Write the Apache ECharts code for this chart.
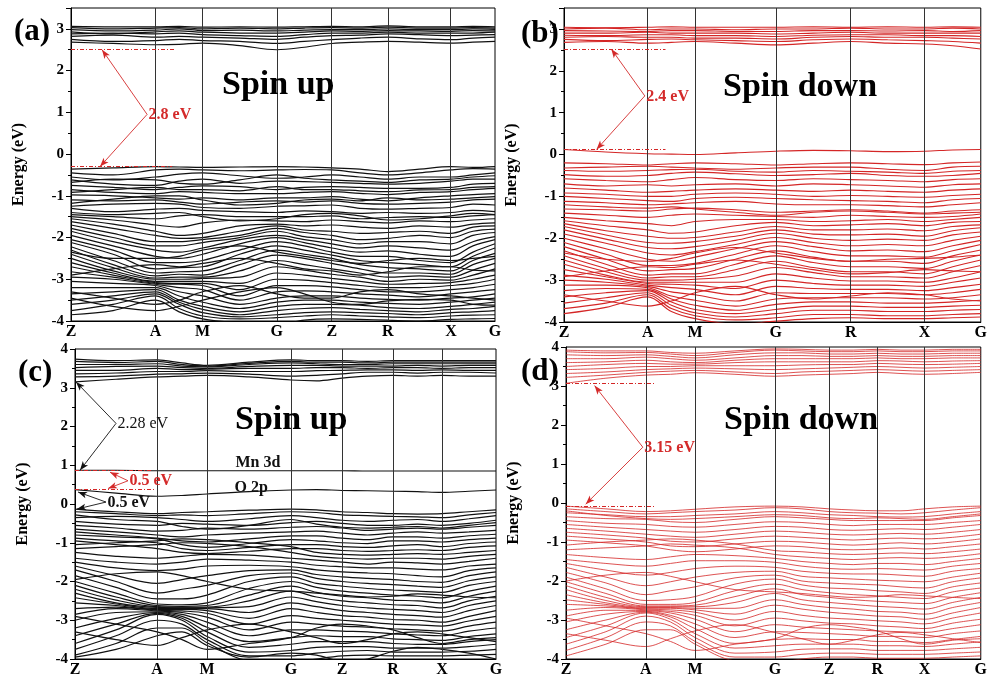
<!DOCTYPE html>
<html>
<head>
<meta charset="utf-8">
<script src="https://cdn.jsdelivr.net/npm/echarts@6/dist/echarts.min.js"></script>
<style>
  html, body { margin: 0; padding: 0; background: #fff; }
  #chart { width: 990px; height: 678px; }
</style>
</head>
<body>
<div id="chart"></div>
<script>
// ---------- k-paths (high-symmetry labels, path positions, sampled k) ----------
const pathLabelsA = ['Z', 'A', 'M', 'G', 'Z', 'R', 'X', 'G'];
const pathPosA = [0, 0.845, 1.315, 2.055, 2.605, 3.165, 3.795, 4.235];
const sampleKA = [0, 0.42, 0.845, 1.08, 1.315, 1.685, 2.055, 2.33, 2.605, 2.885, 3.165, 3.48, 3.795, 4.015, 4.235];

const pathLabelsB = ['Z', 'A', 'M', 'G', 'R', 'X', 'G'];
const pathPosB = [0, 0.85, 1.33, 2.15, 2.91, 3.66, 4.23];
const sampleKB = [0, 0.425, 0.85, 1.09, 1.33, 1.74, 2.15, 2.53, 2.91, 3.285, 3.66, 3.945, 4.23];

const pathLabelsC = ['Z', 'A', 'M', 'G', 'Z', 'R', 'X', 'G'];
const pathPosC = [0, 0.82, 1.32, 2.16, 2.67, 3.18, 3.67, 4.21];
const sampleKC = [0, 0.41, 0.82, 1.07, 1.32, 1.74, 2.16, 2.415, 2.67, 2.925, 3.18, 3.425, 3.67, 3.94, 4.21];

const pathLabelsD = ['Z', 'A', 'M', 'G', 'Z', 'R', 'X', 'G'];
const pathPosD = [0, 0.81, 1.31, 2.12, 2.67, 3.16, 3.64, 4.21];
const sampleKD = [0, 0.405, 0.81, 1.06, 1.31, 1.715, 2.12, 2.395, 2.67, 2.915, 3.16, 3.4, 3.64, 3.925, 4.21];

// ---------- band edges (eV) ----------
const edgesA = { vbm: -0.3, cbm: 2.5 };
const edgesB = { vbm: 0.12, cbm: 2.52 };
const edgesC = { vbm: -0.13, o2p: 0.37, mn3d: 0.87, cbm: 3.15 };
const edgesD = { vbm: -0.08, cbm: 3.07 };

// ---------- (a) spin up ----------
const conductionA = [
  [2.68,2.65,2.62,2.63,2.66,2.6,2.5,2.56,2.65,2.68,2.7,2.68,2.66,2.68,2.7],
  [2.75,2.7,2.72,2.75,2.72,2.7,2.65,2.7,2.74,2.78,2.8,2.76,2.74,2.78,2.8],
  [2.82,2.85,2.8,2.82,2.8,2.78,2.75,2.8,2.84,2.85,2.88,2.86,2.84,2.85,2.86],
  [2.88,2.9,2.88,2.9,2.86,2.84,2.82,2.86,2.9,2.9,2.92,2.9,2.9,2.9,2.92],
  [2.93,2.88,2.93,2.95,2.92,2.9,2.9,2.92,2.95,2.94,2.96,2.95,2.94,2.96,2.95],
  [2.98,2.95,2.97,3.0,2.96,2.97,2.95,2.97,2.98,2.98,3.0,2.98,2.98,3.0,2.99],
  [3.03,3.0,3.02,3.03,3.0,3.02,3.0,3.02,3.03,3.02,3.04,3.02,3.02,3.03,3.02],
  [3.06,3.05,3.05,3.06,3.04,3.05,3.04,3.05,3.06,3.05,3.07,3.05,3.05,3.06,3.05]
];
const valenceA = [
  [-0.36,-0.33,-0.3,-0.31,-0.32,-0.31,-0.3,-0.31,-0.33,-0.36,-0.42,-0.36,-0.3,-0.32,-0.3],
  [-0.45,-0.5,-0.38,-0.36,-0.38,-0.4,-0.38,-0.37,-0.38,-0.45,-0.5,-0.45,-0.38,-0.35,-0.36],
  [-0.55,-0.62,-0.55,-0.48,-0.45,-0.52,-0.58,-0.55,-0.5,-0.55,-0.6,-0.55,-0.55,-0.5,-0.45],
  [-0.62,-0.72,-0.75,-0.65,-0.6,-0.7,-0.65,-0.66,-0.68,-0.7,-0.72,-0.7,-0.65,-0.6,-0.6],
  [-0.75,-0.8,-0.85,-0.8,-0.76,-0.78,-0.85,-0.8,-0.78,-0.8,-0.82,-0.82,-0.8,-0.72,-0.7],
  [-0.85,-0.92,-0.95,-0.9,-0.92,-0.95,-0.95,-0.92,-0.9,-0.94,-0.97,-0.92,-0.9,-0.85,-0.82],
  [-0.98,-1.0,-1.05,-1.08,-1.05,-1.1,-1.05,-1.05,-1.02,-1.08,-1.12,-1.05,-1.0,-0.97,-0.95],
  [-1.1,-1.12,-1.1,-1.15,-1.2,-1.15,-1.12,-1.15,-1.12,-1.18,-1.2,-1.18,-1.15,-1.1,-1.08],
  [-1.25,-1.2,-1.18,-1.2,-1.28,-1.3,-1.25,-1.24,-1.22,-1.3,-1.32,-1.3,-1.28,-1.2,-1.22],
  [-1.3,-1.38,-1.32,-1.3,-1.35,-1.38,-1.4,-1.36,-1.38,-1.42,-1.4,-1.42,-1.4,-1.35,-1.38],
  [-1.45,-1.5,-1.55,-1.48,-1.45,-1.5,-1.5,-1.5,-1.48,-1.55,-1.52,-1.5,-1.52,-1.48,-1.45],
  [-1.5,-1.58,-1.7,-1.75,-1.65,-1.58,-1.6,-1.62,-1.58,-1.62,-1.65,-1.6,-1.62,-1.58,-1.55],
  [-1.55,-1.68,-1.85,-1.95,-1.9,-1.72,-1.68,-1.72,-1.7,-1.75,-1.78,-1.72,-1.75,-1.68,-1.65],
  [-1.62,-1.78,-1.95,-2.02,-2.0,-1.85,-1.72,-1.82,-1.85,-1.9,-1.88,-1.85,-1.9,-1.75,-1.72],
  [-1.7,-1.9,-2.1,-2.1,-2.05,-1.95,-1.78,-1.88,-1.95,-2.05,-2.02,-1.95,-2.0,-1.85,-1.8],
  [-1.78,-2.0,-2.2,-2.2,-2.12,-2.0,-1.85,-1.98,-2.05,-2.15,-2.1,-2.1,-2.15,-1.95,-1.88],
  [-1.85,-2.1,-2.3,-2.35,-2.25,-2.05,-1.95,-2.05,-2.15,-2.25,-2.2,-2.25,-2.3,-2.1,-1.98],
  [-1.95,-2.2,-2.45,-2.5,-2.4,-2.15,-2.0,-2.12,-2.25,-2.35,-2.32,-2.4,-2.45,-2.2,-2.05],
  [-2.05,-2.3,-2.6,-2.6,-2.55,-2.3,-2.1,-2.2,-2.35,-2.45,-2.45,-2.55,-2.6,-2.35,-2.15],
  [-2.12,-2.4,-2.75,-2.72,-2.7,-2.4,-2.2,-2.3,-2.42,-2.55,-2.6,-2.65,-2.7,-2.45,-2.25],
  [-2.22,-2.55,-2.85,-2.82,-2.8,-2.55,-2.3,-2.4,-2.5,-2.65,-2.72,-2.75,-2.8,-2.55,-2.38],
  [-2.3,-2.65,-2.92,-2.88,-2.9,-2.65,-2.42,-2.5,-2.62,-2.75,-2.85,-2.85,-2.88,-2.65,-2.5],
  [-2.4,-2.72,-2.97,-2.95,-2.95,-2.8,-2.55,-2.65,-2.75,-2.85,-2.95,-2.92,-2.95,-2.78,-2.62],
  [-2.5,-2.8,-3.0,-3.0,-2.98,-2.95,-2.7,-2.78,-2.88,-2.95,-3.05,-3.0,-3.02,-2.9,-2.75],
  [-2.6,-2.85,-3.05,-3.05,-3.05,-3.1,-2.85,-2.9,-2.98,-3.05,-3.12,-3.1,-3.08,-3.0,-2.9],
  [-2.7,-2.9,-3.08,-3.1,-3.1,-3.25,-3.0,-3.02,-3.08,-3.15,-3.2,-3.2,-3.15,-3.1,-3.0],
  [-2.82,-2.95,-3.1,-3.12,-3.15,-3.4,-3.15,-3.15,-3.18,-3.25,-3.3,-3.3,-3.25,-3.2,-3.12],
  [-2.95,-3.0,-3.12,-3.2,-3.25,-3.5,-3.3,-3.28,-3.3,-3.35,-3.38,-3.42,-3.35,-3.3,-3.25],
  [-3.05,-3.1,-3.15,-3.3,-3.4,-3.6,-3.45,-3.4,-3.4,-3.45,-3.48,-3.5,-3.45,-3.42,-3.35],
  [-3.2,-3.2,-3.2,-3.4,-3.55,-3.7,-3.55,-3.5,-3.5,-3.55,-3.58,-3.6,-3.55,-3.5,-3.45],
  [-3.35,-3.3,-3.25,-3.5,-3.65,-3.78,-3.65,-3.6,-3.6,-3.62,-3.68,-3.7,-3.65,-3.6,-3.55],
  [-3.5,-3.4,-3.3,-3.55,-3.72,-3.85,-3.75,-3.7,-3.68,-3.72,-3.75,-3.78,-3.72,-3.7,-3.65],
  [-3.6,-3.5,-3.35,-3.6,-3.8,-3.9,-3.85,-3.8,-3.78,-3.8,-3.82,-3.85,-3.8,-3.78,-3.75],
  [-3.75,-3.6,-3.4,-3.7,-3.88,-3.95,-3.92,-3.88,-3.85,-3.88,-3.9,-3.92,-3.88,-3.86,-3.85],
  [-3.85,-3.75,-3.5,-3.78,-3.95,-4.05,-4.1,-3.98,-3.95,-3.96,-3.98,-4.0,-3.96,-3.95,-3.94],
  [-0.68,-0.6,-0.62,-0.7,-0.72,-0.62,-0.5,-0.58,-0.62,-0.65,-0.68,-0.62,-0.6,-0.55,-0.52],
  [-0.92,-0.85,-0.8,-0.85,-0.85,-0.88,-0.78,-0.85,-0.85,-0.88,-0.9,-0.86,-0.85,-0.8,-0.78],
  [-1.18,-1.08,-1.0,-1.0,-1.1,-1.22,-1.18,-1.1,-1.08,-1.12,-1.05,-1.1,-1.08,-1.05,-1.02],
  [-1.4,-1.45,-1.42,-1.4,-1.5,-1.6,-1.55,-1.45,-1.42,-1.48,-1.58,-1.55,-1.48,-1.42,-1.45],
  [-2.35,-2.5,-2.5,-2.45,-2.3,-2.2,-2.35,-2.45,-2.55,-2.62,-2.55,-2.5,-2.55,-2.5,-2.45],
  [-2.9,-2.75,-2.65,-2.7,-2.62,-2.5,-2.62,-2.75,-2.8,-2.9,-2.82,-2.7,-2.7,-2.78,-2.8],
  [-3.3,-3.45,-3.6,-3.5,-3.3,-3.15,-3.35,-3.45,-3.45,-3.3,-3.25,-3.35,-3.4,-3.45,-3.5],
  [-3.45,-3.65,-3.75,-3.65,-3.5,-3.3,-3.2,-3.35,-3.55,-3.6,-3.52,-3.48,-3.5,-3.6,-3.62]
];

// ---------- (b) spin down ----------
const conductionB = [
  [2.68,2.7,2.66,2.68,2.7,2.66,2.62,2.66,2.7,2.66,2.64,2.6,2.52],
  [2.75,2.72,2.75,2.76,2.74,2.72,2.7,2.74,2.76,2.74,2.72,2.7,2.66],
  [2.8,2.82,2.8,2.8,2.78,2.78,2.76,2.8,2.82,2.8,2.8,2.78,2.76],
  [2.85,2.84,2.86,2.86,2.84,2.84,2.82,2.85,2.86,2.86,2.84,2.84,2.82],
  [2.9,2.9,2.92,2.9,2.9,2.9,2.88,2.9,2.92,2.9,2.9,2.9,2.9],
  [2.96,2.95,2.94,2.96,2.96,2.94,2.94,2.96,2.96,2.95,2.96,2.94,2.96],
  [3.0,3.02,2.98,3.0,3.0,2.98,3.0,3.0,3.02,3.0,3.0,3.02,3.0],
  [3.04,3.03,3.04,3.05,3.04,3.04,3.04,3.05,3.04,3.05,3.04,3.05,3.04]
];
const valenceB = [
  [0.12,0.06,0.02,0.01,0.0,0.04,0.08,0.1,0.09,0.07,0.08,0.11,0.12],
  [-0.2,-0.22,-0.25,-0.22,-0.2,-0.22,-0.25,-0.22,-0.2,-0.22,-0.24,-0.2,-0.18],
  [-0.32,-0.3,-0.28,-0.3,-0.32,-0.35,-0.32,-0.3,-0.3,-0.35,-0.38,-0.3,-0.28],
  [-0.38,-0.4,-0.38,-0.36,-0.35,-0.4,-0.42,-0.38,-0.4,-0.42,-0.45,-0.4,-0.38],
  [-0.48,-0.52,-0.5,-0.45,-0.42,-0.46,-0.5,-0.48,-0.45,-0.5,-0.52,-0.5,-0.45],
  [-0.58,-0.62,-0.65,-0.6,-0.55,-0.6,-0.62,-0.58,-0.6,-0.62,-0.65,-0.6,-0.58],
  [-0.7,-0.75,-0.72,-0.75,-0.72,-0.7,-0.75,-0.7,-0.72,-0.75,-0.78,-0.72,-0.7],
  [-0.8,-0.85,-0.9,-0.88,-0.85,-0.82,-0.85,-0.88,-0.85,-0.88,-0.9,-0.85,-0.82],
  [-0.92,-0.95,-1.0,-1.0,-0.95,-0.92,-0.95,-1.0,-0.98,-1.0,-1.02,-0.98,-0.95],
  [-1.0,-1.05,-1.1,-1.12,-1.05,-1.02,-1.05,-1.08,-1.1,-1.12,-1.15,-1.08,-1.05],
  [-1.12,-1.15,-1.2,-1.18,-1.15,-1.12,-1.18,-1.2,-1.2,-1.22,-1.25,-1.2,-1.15],
  [-1.2,-1.25,-1.28,-1.25,-1.3,-1.38,-1.45,-1.38,-1.35,-1.38,-1.42,-1.4,-1.38],
  [-1.3,-1.32,-1.35,-1.3,-1.28,-1.32,-1.38,-1.35,-1.32,-1.35,-1.4,-1.35,-1.32],
  [-1.4,-1.45,-1.5,-1.45,-1.42,-1.45,-1.48,-1.5,-1.45,-1.48,-1.5,-1.48,-1.42],
  [-1.5,-1.58,-1.65,-1.7,-1.6,-1.55,-1.55,-1.6,-1.58,-1.55,-1.6,-1.55,-1.5],
  [-1.58,-1.7,-1.8,-1.88,-1.85,-1.7,-1.62,-1.7,-1.68,-1.65,-1.7,-1.62,-1.6],
  [-1.65,-1.82,-1.95,-2.0,-1.98,-1.85,-1.72,-1.8,-1.8,-1.78,-1.82,-1.72,-1.68],
  [-1.72,-1.92,-2.1,-2.12,-2.08,-1.95,-1.8,-1.9,-1.92,-1.9,-1.95,-1.82,-1.75],
  [-1.8,-2.02,-2.22,-2.25,-2.2,-2.05,-1.88,-2.0,-2.05,-2.02,-2.05,-1.92,-1.85],
  [-1.9,-2.12,-2.35,-2.4,-2.32,-2.15,-1.98,-2.1,-2.18,-2.15,-2.18,-2.05,-1.95],
  [-2.0,-2.25,-2.5,-2.55,-2.45,-2.25,-2.08,-2.2,-2.3,-2.28,-2.32,-2.18,-2.05],
  [-2.1,-2.38,-2.65,-2.65,-2.6,-2.38,-2.18,-2.32,-2.42,-2.42,-2.45,-2.3,-2.15],
  [-2.2,-2.5,-2.78,-2.75,-2.72,-2.5,-2.3,-2.45,-2.55,-2.55,-2.6,-2.42,-2.28],
  [-2.3,-2.62,-2.88,-2.85,-2.85,-2.62,-2.42,-2.58,-2.68,-2.68,-2.72,-2.55,-2.4],
  [-2.42,-2.72,-2.95,-2.92,-2.92,-2.75,-2.55,-2.7,-2.8,-2.8,-2.85,-2.68,-2.52],
  [-2.52,-2.8,-3.0,-3.0,-2.98,-2.9,-2.7,-2.82,-2.92,-2.92,-2.95,-2.8,-2.65],
  [-2.62,-2.88,-3.05,-3.05,-3.05,-3.05,-2.85,-2.95,-3.02,-3.02,-3.05,-2.95,-2.8],
  [-2.75,-2.92,-3.08,-3.1,-3.12,-3.2,-3.0,-3.08,-3.12,-3.12,-3.15,-3.05,-2.95],
  [-2.88,-2.98,-3.12,-3.18,-3.22,-3.35,-3.15,-3.2,-3.22,-3.22,-3.25,-3.18,-3.1],
  [-3.0,-3.05,-3.15,-3.28,-3.35,-3.5,-3.3,-3.32,-3.32,-3.32,-3.35,-3.3,-3.22],
  [-3.12,-3.12,-3.18,-3.38,-3.48,-3.62,-3.45,-3.42,-3.42,-3.42,-3.45,-3.42,-3.35],
  [-3.25,-3.2,-3.22,-3.45,-3.6,-3.72,-3.58,-3.52,-3.52,-3.55,-3.55,-3.52,-3.48],
  [-3.4,-3.3,-3.25,-3.52,-3.7,-3.8,-3.7,-3.62,-3.62,-3.65,-3.65,-3.62,-3.6],
  [-3.55,-3.42,-3.3,-3.6,-3.78,-3.88,-3.8,-3.72,-3.72,-3.75,-3.75,-3.72,-3.7],
  [-3.68,-3.55,-3.35,-3.68,-3.85,-3.95,-3.9,-3.82,-3.82,-3.85,-3.85,-3.82,-3.8],
  [-3.8,-3.65,-3.4,-3.75,-3.92,-4.05,-3.98,-3.92,-3.9,-3.92,-3.92,-3.9,-3.88],
  [-2.35,-2.5,-2.55,-2.48,-2.35,-2.22,-2.35,-2.48,-2.55,-2.5,-2.48,-2.45,-2.4],
  [-2.92,-2.78,-2.68,-2.7,-2.62,-2.52,-2.62,-2.75,-2.85,-2.82,-2.75,-2.78,-2.8],
  [-3.35,-3.5,-3.62,-3.5,-3.3,-3.15,-3.35,-3.45,-3.38,-3.3,-3.35,-3.45,-3.5]
];

// ---------- (c) spin up ----------
const conductionC = [
  [3.15,3.22,3.28,3.3,3.32,3.28,3.2,3.18,3.25,3.3,3.32,3.3,3.32,3.3,3.3],
  [3.28,3.3,3.35,3.36,3.38,3.35,3.3,3.32,3.36,3.4,3.4,3.38,3.4,3.4,3.38],
  [3.36,3.38,3.42,3.42,3.44,3.42,3.42,3.44,3.45,3.46,3.46,3.45,3.46,3.45,3.45],
  [3.45,3.45,3.5,3.47,3.48,3.5,3.5,3.52,3.52,3.5,3.52,3.52,3.5,3.52,3.52],
  [3.52,3.55,3.56,3.52,3.5,3.55,3.58,3.58,3.56,3.56,3.56,3.58,3.56,3.58,3.58],
  [3.6,3.6,3.62,3.56,3.54,3.6,3.64,3.62,3.6,3.6,3.62,3.62,3.62,3.62,3.62],
  [3.68,3.65,3.68,3.6,3.56,3.63,3.68,3.66,3.66,3.64,3.66,3.66,3.66,3.66,3.66],
  [3.74,3.7,3.72,3.64,3.58,3.66,3.72,3.7,3.7,3.68,3.7,3.7,3.7,3.7,3.7]
];
const mn3dC = [0.87,0.87,0.86,0.86,0.86,0.86,0.86,0.86,0.86,0.85,0.85,0.85,0.85,0.85,0.85];
const o2pC = [0.37,0.28,0.2,0.22,0.26,0.32,0.36,0.37,0.35,0.34,0.33,0.32,0.3,0.33,0.36];
const valenceC = [
  [-0.13,-0.2,-0.25,-0.22,-0.2,-0.16,-0.13,-0.15,-0.2,-0.22,-0.25,-0.26,-0.25,-0.2,-0.15],
  [-0.2,-0.25,-0.3,-0.28,-0.3,-0.25,-0.2,-0.22,-0.28,-0.3,-0.32,-0.33,-0.35,-0.28,-0.22],
  [-0.28,-0.4,-0.45,-0.58,-0.65,-0.55,-0.4,-0.52,-0.6,-0.62,-0.6,-0.58,-0.62,-0.55,-0.48],
  [-0.35,-0.32,-0.35,-0.4,-0.45,-0.38,-0.3,-0.35,-0.42,-0.45,-0.42,-0.4,-0.45,-0.38,-0.3],
  [-0.45,-0.52,-0.55,-0.5,-0.52,-0.55,-0.48,-0.45,-0.5,-0.55,-0.55,-0.52,-0.55,-0.5,-0.42],
  [-0.55,-0.62,-0.7,-0.68,-0.62,-0.65,-0.6,-0.58,-0.62,-0.68,-0.65,-0.62,-0.65,-0.6,-0.55],
  [-0.65,-0.72,-0.8,-0.85,-0.8,-0.75,-0.72,-0.7,-0.75,-0.8,-0.75,-0.72,-0.75,-0.72,-0.68],
  [-0.72,-0.8,-0.88,-0.95,-0.98,-0.9,-0.82,-0.82,-0.88,-0.92,-0.85,-0.85,-0.88,-0.82,-0.78],
  [-0.8,-0.85,-0.9,-1.05,-1.12,-1.02,-0.92,-0.95,-1.0,-1.02,-0.95,-0.95,-0.98,-0.92,-0.88],
  [-0.88,-0.95,-1.0,-1.15,-1.2,-1.12,-1.05,-1.05,-1.1,-1.12,-1.08,-1.05,-1.1,-1.02,-0.98],
  [-0.95,-1.05,-1.15,-1.25,-1.28,-1.22,-1.15,-1.15,-1.2,-1.22,-1.2,-1.18,-1.2,-1.12,-1.08],
  [-1.05,-1.0,-0.95,-0.9,-0.92,-1.0,-1.1,-1.25,-1.3,-1.32,-1.3,-1.28,-1.3,-1.25,-1.2],
  [-1.15,-1.1,-1.05,-1.0,-1.02,-1.1,-1.25,-1.35,-1.4,-1.42,-1.4,-1.4,-1.42,-1.35,-1.3],
  [-1.25,-1.35,-1.4,-1.35,-1.3,-1.32,-1.4,-1.45,-1.5,-1.55,-1.5,-1.52,-1.55,-1.48,-1.4],
  [-1.4,-1.5,-1.55,-1.5,-1.42,-1.45,-1.5,-1.58,-1.62,-1.65,-1.65,-1.68,-1.7,-1.6,-1.55],
  [-1.5,-1.65,-1.72,-1.68,-1.6,-1.58,-1.62,-1.7,-1.75,-1.78,-1.8,-1.85,-1.88,-1.72,-1.65],
  [-1.6,-1.85,-2.05,-1.95,-1.85,-1.72,-1.7,-1.82,-1.88,-1.92,-1.95,-2.0,-2.02,-1.85,-1.75],
  [-1.7,-2.0,-2.3,-2.2,-2.1,-1.85,-1.78,-1.92,-2.0,-2.05,-2.08,-2.12,-2.15,-1.98,-1.88],
  [-1.85,-2.15,-2.45,-2.45,-2.35,-2.0,-1.88,-2.05,-2.12,-2.18,-2.22,-2.25,-2.28,-2.1,-2.0],
  [-1.95,-1.8,-1.75,-1.85,-2.0,-2.2,-2.25,-2.3,-2.35,-2.4,-2.38,-2.32,-2.35,-2.4,-2.42],
  [-2.0,-2.3,-2.58,-2.6,-2.55,-2.18,-2.0,-2.15,-2.25,-2.3,-2.35,-2.38,-2.42,-2.25,-2.12],
  [-2.1,-2.4,-2.62,-2.64,-2.62,-2.35,-2.12,-2.28,-2.38,-2.42,-2.48,-2.5,-2.55,-2.38,-2.25],
  [-2.2,-2.48,-2.65,-2.66,-2.66,-2.5,-2.25,-2.4,-2.5,-2.55,-2.6,-2.62,-2.68,-2.5,-2.38],
  [-2.3,-2.55,-2.67,-2.68,-2.68,-2.65,-2.4,-2.52,-2.62,-2.68,-2.72,-2.75,-2.8,-2.62,-2.5],
  [-2.42,-2.58,-2.7,-2.7,-2.7,-2.8,-2.55,-2.65,-2.75,-2.8,-2.85,-2.88,-2.92,-2.75,-2.62],
  [-2.55,-2.62,-2.72,-2.72,-2.75,-2.95,-2.7,-2.8,-2.88,-2.92,-2.98,-3.0,-3.05,-2.9,-2.75],
  [-2.7,-2.66,-2.74,-2.76,-2.82,-3.1,-2.88,-2.95,-3.0,-3.05,-3.1,-3.12,-3.15,-3.02,-2.9],
  [-2.85,-2.7,-2.76,-2.8,-2.92,-3.25,-3.05,-3.1,-3.15,-3.18,-3.22,-3.25,-3.28,-3.15,-3.05],
  [-2.9,-3.1,-3.3,-3.5,-3.75,-3.6,-3.45,-3.2,-3.1,-3.15,-3.25,-3.45,-3.6,-3.5,-3.45],
  [-3.0,-2.8,-2.78,-2.85,-3.05,-3.4,-3.25,-3.25,-3.28,-3.3,-3.35,-3.38,-3.4,-3.28,-3.2],
  [-3.2,-2.95,-2.8,-2.9,-3.18,-3.55,-3.45,-3.4,-3.42,-3.42,-3.48,-3.5,-3.52,-3.42,-3.35],
  [-3.3,-3.5,-3.65,-3.45,-3.25,-3.1,-3.3,-3.45,-3.6,-3.5,-3.35,-3.3,-3.35,-3.45,-3.55],
  [-3.4,-3.1,-2.82,-2.95,-3.3,-3.7,-3.62,-3.55,-3.55,-3.55,-3.6,-3.62,-3.62,-3.55,-3.5],
  [-3.6,-3.25,-2.85,-3.0,-3.42,-3.82,-3.78,-3.7,-3.68,-3.68,-3.72,-3.72,-3.72,-3.68,-3.62],
  [-3.75,-3.4,-3.0,-3.1,-3.5,-3.92,-3.92,-3.85,-3.8,-3.78,-3.82,-3.82,-3.82,-3.8,-3.75],
  [-3.9,-3.6,-3.2,-3.2,-3.58,-4.05,-4.1,-4.0,-3.92,-3.9,-3.92,-3.92,-3.92,-3.9,-3.88],
  [-3.95,-3.75,-3.4,-3.3,-3.65,-3.95,-3.85,-3.9,-4.05,-4.0,-3.8,-3.7,-3.75,-3.85,-4.0]
];

// ---------- (d) spin down ----------
const conductionD = [
  [3.07,3.2,3.28,3.3,3.34,3.3,3.25,3.28,3.3,3.32,3.35,3.32,3.3,3.32,3.35],
  [3.22,3.28,3.35,3.38,3.4,3.36,3.32,3.36,3.38,3.4,3.42,3.4,3.38,3.4,3.42],
  [3.32,3.36,3.42,3.44,3.46,3.44,3.42,3.44,3.46,3.48,3.5,3.48,3.46,3.48,3.5],
  [3.42,3.45,3.5,3.5,3.52,3.52,3.52,3.54,3.55,3.55,3.58,3.56,3.55,3.56,3.58],
  [3.5,3.55,3.58,3.56,3.56,3.6,3.62,3.62,3.62,3.62,3.65,3.64,3.62,3.64,3.65],
  [3.6,3.62,3.66,3.62,3.6,3.66,3.7,3.7,3.7,3.7,3.72,3.7,3.7,3.72,3.72],
  [3.7,3.7,3.74,3.7,3.66,3.72,3.78,3.78,3.76,3.76,3.78,3.76,3.76,3.78,3.78],
  [3.8,3.78,3.8,3.76,3.72,3.8,3.85,3.85,3.82,3.82,3.84,3.82,3.82,3.84,3.84],
  [3.88,3.85,3.86,3.82,3.78,3.86,3.92,3.9,3.88,3.88,3.9,3.88,3.88,3.9,3.9],
  [3.92,3.9,3.9,3.86,3.84,3.9,3.95,3.94,3.92,3.92,3.94,3.92,3.92,3.94,3.94]
];
const valenceD = [
  [-0.08,-0.15,-0.22,-0.2,-0.16,-0.1,-0.08,-0.1,-0.15,-0.18,-0.2,-0.2,-0.15,-0.1,-0.08],
  [-0.15,-0.22,-0.28,-0.25,-0.22,-0.18,-0.12,-0.15,-0.22,-0.25,-0.26,-0.28,-0.25,-0.18,-0.12],
  [-0.2,-0.32,-0.4,-0.42,-0.4,-0.35,-0.3,-0.32,-0.38,-0.4,-0.38,-0.4,-0.42,-0.35,-0.28],
  [-0.25,-0.3,-0.35,-0.35,-0.32,-0.28,-0.22,-0.25,-0.3,-0.32,-0.35,-0.36,-0.35,-0.28,-0.22],
  [-0.35,-0.4,-0.42,-0.48,-0.5,-0.42,-0.35,-0.38,-0.42,-0.45,-0.45,-0.45,-0.45,-0.38,-0.32],
  [-0.45,-0.52,-0.55,-0.6,-0.62,-0.55,-0.48,-0.5,-0.55,-0.58,-0.55,-0.55,-0.55,-0.5,-0.45],
  [-0.55,-0.62,-0.68,-0.72,-0.75,-0.68,-0.6,-0.62,-0.68,-0.7,-0.68,-0.66,-0.68,-0.62,-0.55],
  [-0.65,-0.72,-0.8,-0.85,-0.88,-0.8,-0.72,-0.75,-0.8,-0.82,-0.8,-0.78,-0.8,-0.75,-0.68],
  [-0.75,-0.82,-0.9,-0.98,-1.0,-0.92,-0.85,-0.88,-0.92,-0.95,-0.92,-0.9,-0.92,-0.88,-0.8],
  [-0.85,-0.92,-1.0,-1.1,-1.12,-1.05,-0.98,-1.0,-1.05,-1.08,-1.05,-1.02,-1.05,-1.0,-0.92],
  [-0.95,-1.02,-1.1,-1.2,-1.25,-1.18,-1.1,-1.12,-1.18,-1.2,-1.18,-1.15,-1.18,-1.12,-1.05],
  [-1.08,-1.0,-0.95,-0.92,-0.95,-1.05,-1.22,-1.25,-1.3,-1.32,-1.3,-1.28,-1.3,-1.25,-1.18],
  [-1.2,-1.15,-1.1,-1.05,-1.08,-1.15,-1.32,-1.38,-1.42,-1.45,-1.42,-1.4,-1.42,-1.38,-1.3],
  [-1.32,-1.4,-1.45,-1.38,-1.32,-1.35,-1.42,-1.5,-1.55,-1.58,-1.55,-1.55,-1.58,-1.5,-1.42],
  [-1.45,-1.55,-1.62,-1.55,-1.48,-1.48,-1.52,-1.62,-1.68,-1.7,-1.68,-1.7,-1.72,-1.62,-1.55],
  [-1.55,-1.72,-1.85,-1.78,-1.68,-1.62,-1.65,-1.75,-1.8,-1.82,-1.82,-1.85,-1.88,-1.75,-1.68],
  [-1.65,-1.9,-2.12,-2.02,-1.9,-1.78,-1.75,-1.88,-1.92,-1.95,-1.98,-2.0,-2.02,-1.9,-1.8],
  [-1.78,-2.05,-2.35,-2.25,-2.15,-1.92,-1.85,-2.0,-2.05,-2.08,-2.1,-2.15,-2.18,-2.02,-1.92],
  [-1.9,-2.2,-2.5,-2.48,-2.4,-2.08,-1.95,-2.1,-2.18,-2.2,-2.25,-2.28,-2.32,-2.15,-2.05],
  [-2.0,-1.85,-1.78,-1.88,-2.02,-2.22,-2.28,-2.32,-2.38,-2.42,-2.4,-2.35,-2.38,-2.42,-2.45],
  [-2.02,-2.32,-2.6,-2.6,-2.55,-2.25,-2.08,-2.22,-2.3,-2.35,-2.38,-2.42,-2.45,-2.28,-2.18],
  [-2.12,-2.42,-2.64,-2.64,-2.62,-2.4,-2.2,-2.35,-2.42,-2.48,-2.52,-2.55,-2.58,-2.42,-2.3],
  [-2.22,-2.5,-2.66,-2.66,-2.66,-2.55,-2.32,-2.48,-2.55,-2.6,-2.65,-2.68,-2.72,-2.55,-2.42],
  [-2.35,-2.56,-2.68,-2.68,-2.7,-2.7,-2.48,-2.6,-2.68,-2.72,-2.78,-2.8,-2.85,-2.68,-2.55],
  [-2.48,-2.6,-2.7,-2.7,-2.74,-2.85,-2.62,-2.72,-2.8,-2.85,-2.9,-2.92,-2.98,-2.82,-2.68],
  [-2.6,-2.64,-2.72,-2.74,-2.8,-3.0,-2.78,-2.88,-2.95,-2.98,-3.02,-3.05,-3.1,-2.95,-2.82],
  [-2.75,-2.68,-2.74,-2.78,-2.88,-3.15,-2.95,-3.02,-3.08,-3.1,-3.15,-3.18,-3.22,-3.08,-2.98],
  [-2.9,-2.75,-2.76,-2.82,-2.98,-3.3,-3.12,-3.18,-3.22,-3.25,-3.28,-3.3,-3.32,-3.22,-3.12],
  [-2.95,-3.15,-3.35,-3.55,-3.78,-3.62,-3.48,-3.22,-3.12,-3.18,-3.28,-3.48,-3.62,-3.52,-3.48],
  [-3.05,-2.85,-2.78,-2.88,-3.1,-3.45,-3.3,-3.32,-3.35,-3.38,-3.42,-3.42,-3.45,-3.35,-3.28],
  [-3.25,-3.0,-2.8,-2.92,-3.22,-3.6,-3.5,-3.48,-3.5,-3.5,-3.55,-3.55,-3.58,-3.5,-3.42],
  [-3.35,-3.52,-3.68,-3.48,-3.28,-3.12,-3.32,-3.48,-3.62,-3.52,-3.38,-3.32,-3.38,-3.48,-3.58],
  [-3.45,-3.15,-2.82,-2.98,-3.35,-3.72,-3.66,-3.62,-3.62,-3.62,-3.66,-3.66,-3.68,-3.62,-3.56],
  [-3.62,-3.3,-2.9,-3.05,-3.45,-3.85,-3.82,-3.75,-3.74,-3.74,-3.78,-3.78,-3.78,-3.74,-3.7],
  [-3.78,-3.45,-3.05,-3.15,-3.55,-3.95,-3.95,-3.88,-3.85,-3.85,-3.88,-3.88,-3.88,-3.85,-3.82],
  [-3.92,-3.62,-3.25,-3.25,-3.62,-4.05,-4.1,-4.0,-3.95,-3.95,-3.98,-3.98,-3.98,-3.95,-3.92]
];

// ---------- styling ----------
const SERIF = '"Liberation Serif", "DejaVu Serif", serif';
const BLACK = '#111';
const RED = '#d42626';
const ARROW_RED = '#d42a2a';

const panels = [
  { grid: { left: 71, top: 8, width: 424, height: 313 }, yMax: 3.5, labels: pathLabelsA, pos: pathPosA },
  { grid: { left: 564, top: 8, width: 423, height: 314 }, yMax: 3.5, labels: pathLabelsB, pos: pathPosB },
  { grid: { left: 75, top: 349, width: 421, height: 316 }, yMax: 4, labels: pathLabelsC, pos: pathPosC },
  { grid: { left: 566, top: 347, width: 421, height: 318 }, yMax: 4, labels: pathLabelsD, pos: pathPosD }
];

const fmtGap = (d, digits) => d.toFixed(digits) + ' eV';

function bandSeries(idx, ks, bands, color, width) {
  return bands.map(b => ({
    type: 'line', xAxisIndex: idx, yAxisIndex: idx,
    data: b.map((e, i) => [ks[i], e]),
    symbol: 'none', smooth: 0.35, silent: true, animation: false, z: 2,
    lineStyle: { color: color, width: width }
  }));
}

function dashLine(x1, y, color) {
  const st = { color: color, width: 1.2, type: [4, 2, 1, 2] };
  return [{ coord: [0, y], symbol: 'none', lineStyle: st }, { coord: [x1, y], symbol: 'none', lineStyle: st }];
}
function arrow(from, to, color) {
  const st = { color: color, width: 0.9, type: 'solid' };
  return [{ coord: from, symbol: 'none', lineStyle: st },
          { coord: to, symbol: 'arrow', symbolSize: [5, 9], itemStyle: { color: color }, lineStyle: st }];
}
function textMark(x, y, text, color, bold) {
  return {
    coord: [x, y], symbol: 'circle', symbolSize: 1, itemStyle: { color: 'rgba(0,0,0,0)' },
    label: { show: true, position: 'right', distance: 0, formatter: text, color: color,
             fontFamily: SERIF, fontSize: 16, fontWeight: bold ? 'bold' : 'normal' }
  };
}

function overlaySeries(idx, pos, lines, texts) {
  return {
    type: 'line', xAxisIndex: idx, yAxisIndex: idx, data: [], silent: true, animation: false, z: 5,
    markLine: {
      silent: true, animation: false, symbol: ['none', 'none'], label: { show: false },
      data: pos.slice(1, -1).map(v => ({ xAxis: v, lineStyle: { color: '#333', width: 1, type: 'solid' } })).concat(lines)
    },
    markPoint: { silent: true, animation: false, data: texts }
  };
}

// annotation overlays per panel
const overlays = [
  overlaySeries(0, pathPosA,
    [dashLine(1.04, edgesA.cbm, RED), dashLine(1.01, edgesA.vbm, RED),
     arrow([0.76, 0.95], [0.31, edgesA.cbm], ARROW_RED), arrow([0.76, 0.95], [0.29, edgesA.vbm], ARROW_RED)],
    [textMark(0.77, 0.95, fmtGap(edgesA.cbm - edgesA.vbm, 1), ARROW_RED, true)]),
  overlaySeries(1, pathPosB,
    [dashLine(1.03, edgesB.cbm, RED), dashLine(1.03, edgesB.vbm, RED),
     arrow([0.82, 1.4], [0.48, edgesB.cbm], ARROW_RED), arrow([0.82, 1.4], [0.33, edgesB.vbm], ARROW_RED)],
    [textMark(0.83, 1.38, fmtGap(edgesB.cbm - edgesB.vbm, 1), ARROW_RED, true)]),
  overlaySeries(2, pathPosC,
    [dashLine(0.77, edgesC.mn3d, RED), dashLine(0.8, edgesC.o2p, RED),
     arrow([0.41, 2.08], [0.01, edgesC.cbm], BLACK), arrow([0.41, 2.08], [0.05, edgesC.mn3d], BLACK),
     arrow([0.53, 0.6], [0.35, 0.82], ARROW_RED), arrow([0.53, 0.6], [0.33, 0.4], ARROW_RED),
     arrow([0.31, 0.05], [0.03, 0.31], BLACK), arrow([0.31, 0.05], [0.02, edgesC.vbm], BLACK)],
    [textMark(0.42, 2.08, fmtGap(edgesC.cbm - edgesC.mn3d, 2), BLACK, false),
     textMark(0.54, 0.61, fmtGap(edgesC.mn3d - edgesC.o2p, 1), ARROW_RED, true),
     textMark(0.32, 0.04, fmtGap(edgesC.o2p - edgesC.vbm, 1), BLACK, true),
     textMark(1.6, 1.06, 'Mn 3d', BLACK, true),
     textMark(1.59, 0.42, 'O 2p', BLACK, true)]),
  overlaySeries(3, pathPosD,
    [dashLine(0.9, edgesD.cbm, RED), dashLine(0.9, edgesD.vbm, RED),
     arrow([0.78, 1.43], [0.29, 3.01], ARROW_RED), arrow([0.78, 1.43], [0.2, -0.03], ARROW_RED)],
    [textMark(0.79, 1.41, fmtGap(edgesD.cbm - edgesD.vbm, 2), ARROW_RED, true)])
];

const series = [].concat(
  bandSeries(0, sampleKA, valenceA, BLACK, 1.2),
  bandSeries(0, sampleKA, conductionA, BLACK, 1.2),
  bandSeries(1, sampleKB, valenceB, RED, 1.1),
  bandSeries(1, sampleKB, conductionB, RED, 1.1),
  bandSeries(2, sampleKC, valenceC, BLACK, 1.2),
  bandSeries(2, sampleKC, conductionC, BLACK, 1.2),
  bandSeries(2, sampleKC, [mn3dC, o2pC], BLACK, 1.1),
  bandSeries(3, sampleKD, valenceD, RED, 0.8),
  bandSeries(3, sampleKD, conductionD, RED, 0.8),
  overlays
);

const axisText = { fontFamily: SERIF, fontWeight: 'bold', color: '#000' };

const option = {
  backgroundColor: '#fff',
  animation: false,
  title: [
    { text: '(a)', left: 9, top: 11, textStyle: { ...axisText, fontSize: 31 } },
    { text: '(b)', left: 516, top: 13, textStyle: { ...axisText, fontSize: 31 } },
    { text: '(c)', left: 13, top: 352, textStyle: { ...axisText, fontSize: 31 } },
    { text: '(d)', left: 516, top: 351, textStyle: { ...axisText, fontSize: 31 } },
    { text: 'Spin up', left: 217, top: 63, textStyle: { ...axisText, fontSize: 34 } },
    { text: 'Spin down', left: 718, top: 65, textStyle: { ...axisText, fontSize: 34 } },
    { text: 'Spin up', left: 230, top: 398, textStyle: { ...axisText, fontSize: 34 } },
    { text: 'Spin down', left: 719, top: 398, textStyle: { ...axisText, fontSize: 34 } }
  ],
  grid: panels.map(p => ({ ...p.grid, show: true, borderColor: '#000', borderWidth: 1, backgroundColor: 'transparent' })),
  xAxis: panels.map((p, i) => ({
    type: 'value', gridIndex: i, min: 0, max: p.pos[p.pos.length - 1],
    axisLine: { show: true, onZero: false, lineStyle: { color: '#000', width: 1 } },
    axisTick: { show: false },
    splitLine: { show: false },
    axisLabel: {
      customValues: p.pos, showMinLabel: true, showMaxLabel: true, hideOverlap: false,
      margin: 3, fontSize: 16, ...axisText,
      formatter: v => { const k = p.pos.findIndex(q => Math.abs(q - v) < 1e-6); return k >= 0 ? p.labels[k] : ''; }
    }
  })),
  yAxis: panels.map((p, i) => ({
    type: 'value', gridIndex: i, min: -4, max: p.yMax, interval: 1,
    name: 'Energy (eV)', nameLocation: 'middle', nameGap: 44,
    nameTextStyle: { ...axisText, fontSize: 16 },
    axisLine: { show: true, onZero: false, lineStyle: { color: '#000', width: 1 } },
    axisTick: { show: true, inside: false, length: 5, lineStyle: { color: '#000' } },
    minorTick: { show: true, splitNumber: 2, length: 3, lineStyle: { color: '#000' } },
    splitLine: { show: false },
    axisLabel: {
      margin: 7, fontSize: 15, ...axisText,
      formatter: v => (Math.abs(v - Math.round(v)) < 1e-9 ? String(Math.round(v)) : '')
    }
  })),
  series: series
};

const chart = echarts.init(document.getElementById('chart'), null, { renderer: 'canvas' });
chart.setOption(option);
</script>
</body>
</html>
